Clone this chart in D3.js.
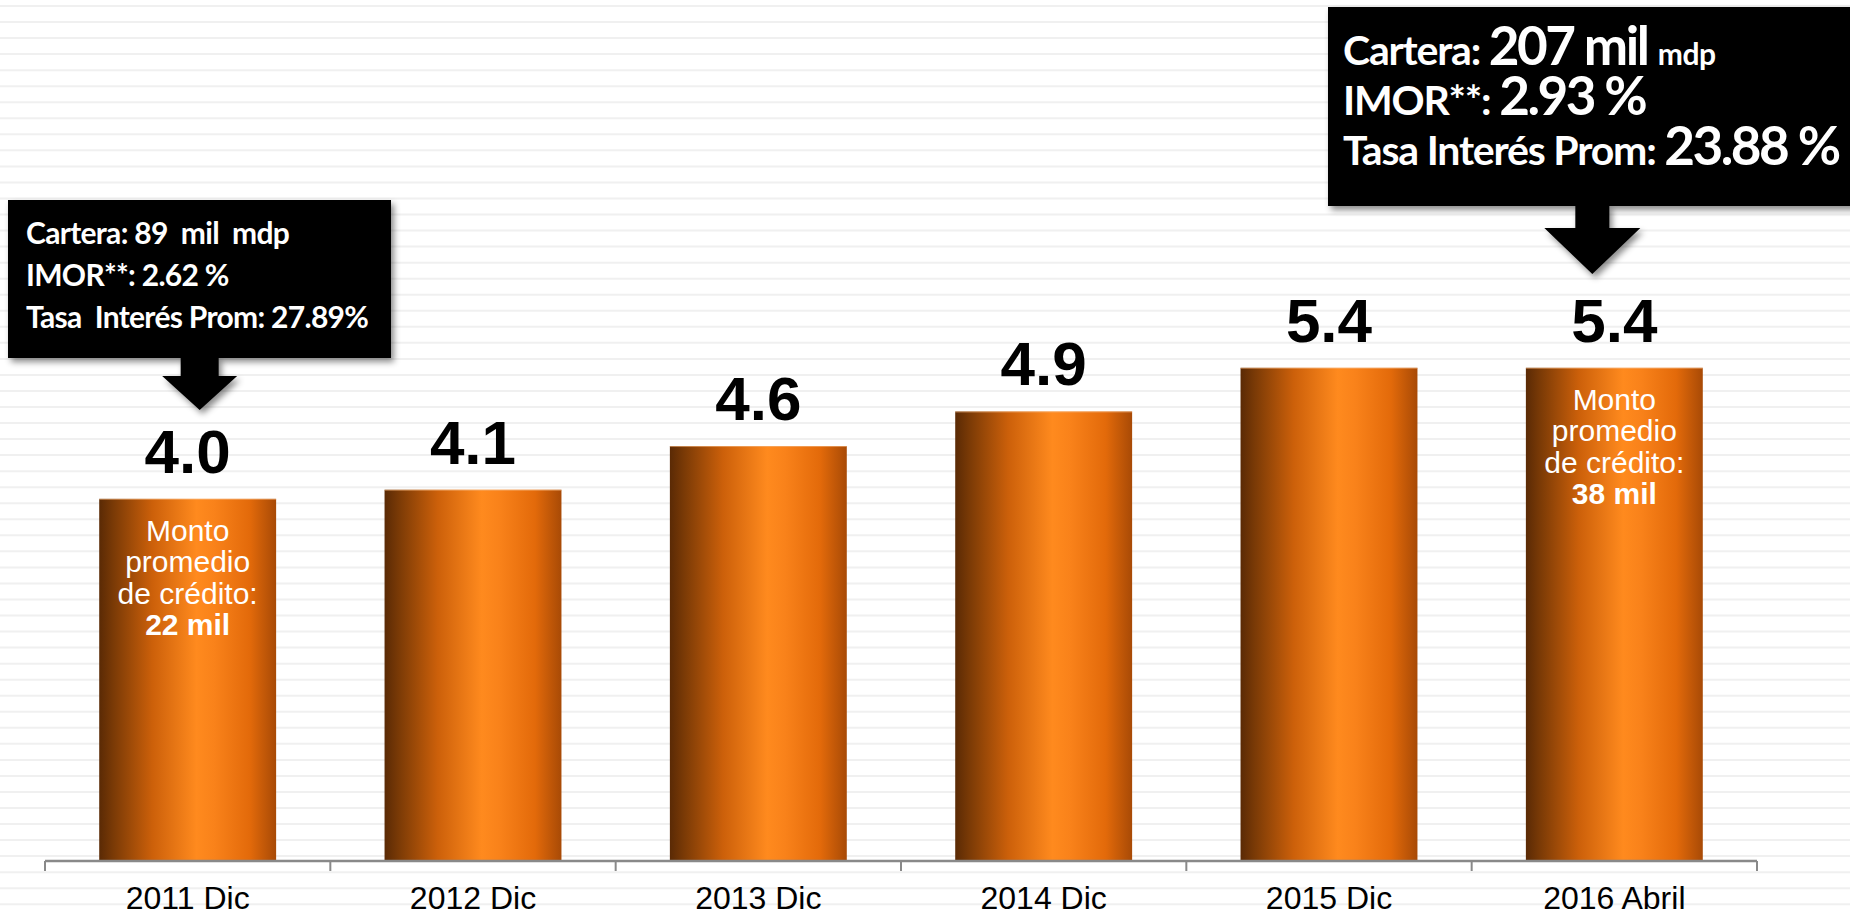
<!DOCTYPE html>
<html>
<head>
<meta charset="utf-8">
<script src="https://cdn.jsdelivr.net/npm/d3@7"></script>
<style>
  html, body { margin: 0; padding: 0; background: #fff; overflow: hidden; }
  svg { display: block; }
  .ann { font-family: Lato, "Open Sans", sans-serif; font-weight: 700; fill: #fff; white-space: pre; }
</style>
</head>
<body>
<svg id="chart" width="1850" height="912"></svg>
<script>
// ---- data ----
const categories = ["2011 Dic", "2012 Dic", "2013 Dic", "2014 Dic", "2015 Dic", "2016 Abril"];
const values = [3.98, 4.08, 4.56, 4.94, 5.42, 5.42];
const noteCategories = ["2011 Dic", "2016 Abril"];
const noteLines = ["Monto", "promedio", "de crédito:"];
const noteAmounts = ["22 mil", "38 mil"];
const leftBoxLines = ["Cartera: 89  mil  mdp", "IMOR**: 2.62 %", "Tasa  Interés Prom: 27.89%"];
const rightBoxLabels = ["Cartera: ", "IMOR**: ", "Tasa Interés Prom: "];
const rightBoxValues = ["207 mil ", "2.93 %", "23.88 %"];
const rightBoxUnits = ["mdp", "", ""];

// ---- layout ----
const W = 1850, H = 912;
const svg = d3.select("#chart");
const defs = svg.append("defs");

const grad = defs.append("linearGradient").attr("id", "barGrad")
  .attr("x1", "0%").attr("x2", "100%").attr("y1", "0%").attr("y2", "0%");
[[0, "#5a2a05"], [0.08, "#7a3a06"], [0.3, "#cc600a"], [0.55, "#ff8a1e"], [0.65, "#f9821a"], [0.85, "#e36a0a"], [1, "#a84a06"]]
  .forEach(([o, c]) => grad.append("stop").attr("offset", o).attr("stop-color", c));

const shadow = defs.append("filter").attr("id", "shadow")
  .attr("x", "-10%").attr("y", "-10%").attr("width", "130%").attr("height", "140%");
shadow.append("feDropShadow").attr("dx", 3).attr("dy", 4).attr("stdDeviation", 3)
  .attr("flood-color", "#000").attr("flood-opacity", 0.45);

// background stripes
svg.append("g").selectAll("line").data(d3.range(6, H, 16.04)).join("line")
  .attr("x1", 0).attr("x2", W).attr("y1", d => d).attr("y2", d => d)
  .attr("stroke", "#f0f0f0").attr("stroke-width", 2);

const x = d3.scaleBand().domain(categories).range([45, 1757]).paddingInner(0.38).paddingOuter(0.19);
const y = d3.scaleLinear().domain([0, 6]).range([861, 861 - 6 * 91]);
const step = x.step();
const cx = d => x(d) + x.bandwidth() / 2;

// bars
const bars = svg.append("g");
bars.selectAll("rect").data(categories).join("rect")
  .attr("x", d => x(d)).attr("width", x.bandwidth())
  .attr("y", (d, i) => y(values[i])).attr("height", (d, i) => y(0) - y(values[i]))
  .attr("fill", "url(#barGrad)");
bars.selectAll("line.top").data(categories).join("line").attr("class", "top")
  .attr("x1", d => x(d)).attr("x2", d => x(d) + x.bandwidth())
  .attr("y1", (d, i) => y(values[i]) + 0.5).attr("y2", (d, i) => y(values[i]) + 0.5)
  .attr("stroke", "#f3b27a").attr("stroke-opacity", 0.6).attr("stroke-width", 1);

// axis
const ax = svg.append("g");
const x0 = x.range()[0], x1 = x.range()[1];
ax.append("line").attr("x1", x0).attr("x2", x1).attr("y1", y(0)).attr("y2", y(0))
  .attr("stroke", "#898989").attr("stroke-width", 2.5);
ax.selectAll("line.tick").data(d3.range(categories.length + 1)).join("line").attr("class", "tick")
  .attr("x1", i => x0 + i * step).attr("x2", i => x0 + i * step)
  .attr("y1", y(0)).attr("y2", y(0) + 10)
  .attr("stroke", "#898989").attr("stroke-width", 2);
ax.selectAll("text").data(categories).join("text")
  .attr("x", d => cx(d)).attr("y", 909)
  .attr("text-anchor", "middle")
  .style("font-family", "Arial, 'Liberation Sans', sans-serif").style("font-size", "32px").style("fill", "#000")
  .text(d => d);

// value labels
svg.append("g").selectAll("text").data(categories).join("text")
  .attr("x", d => cx(d)).attr("y", (d, i) => y(values[i]) - 26)
  .attr("text-anchor", "middle")
  .style("font-family", "Arial, 'Liberation Sans', sans-serif").style("font-weight", "700")
  .style("font-size", "62px").style("fill", "#000")
  .text((d, i) => d3.format(".1f")(values[i]));

// notes inside bars
noteCategories.forEach((c, k) => {
  const i = categories.indexOf(c);
  const top = y(values[i]);
  const g = svg.append("g").attr("text-anchor", "middle")
    .style("font-family", "Arial, 'Liberation Sans', sans-serif").style("font-size", "30px").style("fill", "#fff");
  noteLines.forEach((t, j) => g.append("text").attr("x", cx(c)).attr("y", top + 42 + j * 31.5).text(t));
  g.append("text").attr("x", cx(c)).attr("y", top + 42 + 3 * 31.5).style("font-weight", "700").text(noteAmounts[k]);
});

// arrows helper
function arrow(g, cxA, yTop, yShaftEnd, shaftW, triW, yApex) {
  g.append("path").attr("d",
    `M${cxA - shaftW / 2},${yTop} L${cxA + shaftW / 2},${yTop} L${cxA + shaftW / 2},${yShaftEnd} ` +
    `L${cxA + triW / 2},${yShaftEnd} L${cxA},${yApex} L${cxA - triW / 2},${yShaftEnd} L${cxA - shaftW / 2},${yShaftEnd} Z`)
    .attr("fill", "#000");
}

// left annotation
const gl = svg.append("g").attr("filter", "url(#shadow)");
gl.append("rect").attr("x", 8).attr("y", 200).attr("width", 383).attr("height", 158).attr("fill", "#000");
arrow(gl, cx(categories[0]) + 12, 357, 376, 38, 75, 410);
const tl = svg.append("g");
leftBoxLines.forEach((t, j) => tl.append("text").attr("class", "ann")
  .attr("x", 26).attr("y", 244 + j * 42).style("font-size", "30px").style("letter-spacing", "-0.7px").text(t));

// right annotation
const gr = svg.append("g").attr("filter", "url(#shadow)");
gr.append("rect").attr("x", 1328).attr("y", 7).attr("width", 540).attr("height", 199).attr("fill", "#000");
arrow(gr, cx(categories[5]) - 22, 205, 228, 34, 96, 274);
const tr = svg.append("g");
rightBoxLabels.forEach((t, j) => {
  const txt = tr.append("text").attr("class", "ann").attr("x", 1343).attr("y", 65 + j * 50)
    .style("letter-spacing", "-1.2px");
  txt.append("tspan").style("font-size", "41px").text(t);
  txt.append("tspan").style("font-size", "53px").style("letter-spacing", "-2.5px").text(rightBoxValues[j]);
  if (rightBoxUnits[j]) txt.append("tspan").style("font-size", "30px").style("letter-spacing", "-0.5px").text(rightBoxUnits[j]);
});
</script>
</body>
</html>
